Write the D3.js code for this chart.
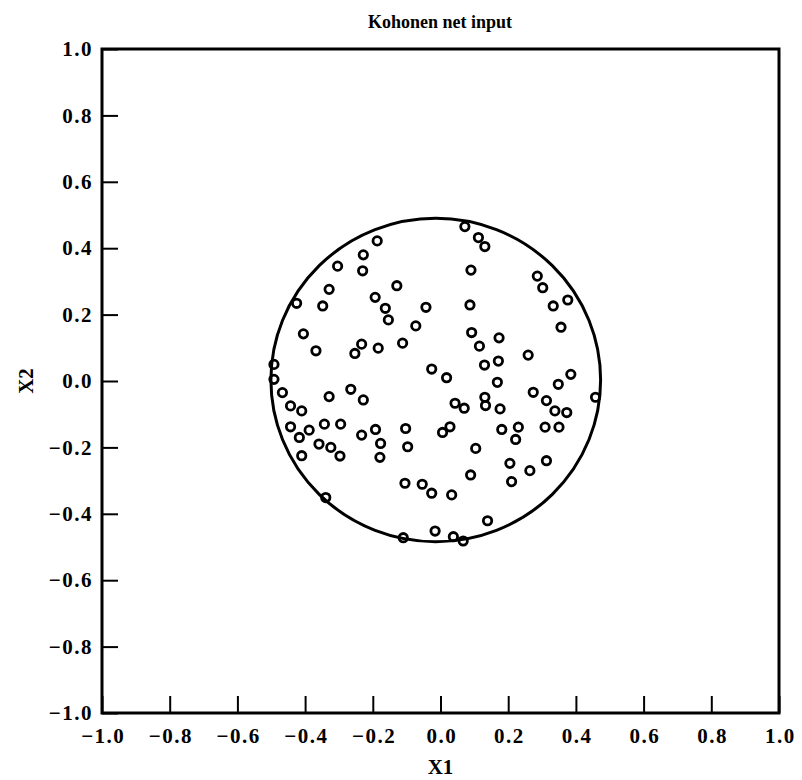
<!DOCTYPE html>
<html>
<head>
<meta charset="utf-8">
<script src="https://cdn.jsdelivr.net/npm/d3@7/dist/d3.min.js"></script>
<style>
  html, body { margin: 0; padding: 0; background: #fff; }
  svg { display: block; }
  text { font-family: "Liberation Serif", "DejaVu Serif", serif; fill: #000; }
</style>
</head>
<body>
<svg id="chart" width="802" height="780"></svg>
<script>
const title = "Kohonen net input";
const xLabel = "X1";
const yLabel = "X2";
const xTicks = [-1.0, -0.8, -0.6, -0.4, -0.2, 0.0, 0.2, 0.4, 0.6, 0.8, 1.0];
const yTicks = [-1.0, -0.8, -0.6, -0.4, -0.2, 0.0, 0.2, 0.4, 0.6, 0.8, 1.0];
// boundary circle (centre and radius in data units)
const circleCenter = [-0.014, 0.003];
const circleRadius = 0.487;

const x1 = [
  -0.187, -0.228, -0.230, -0.304, -0.129, -0.329, -0.425, -0.348, -0.193, -0.163,
  -0.154, -0.043, -0.073, -0.405, -0.368, -0.112, -0.233, -0.253, -0.184,
   0.072,  0.112,  0.131,  0.090,  0.286,  0.302,  0.376,  0.333,  0.087,  0.356,
   0.092,  0.173,  0.115,  0.259,
  -0.026, -0.492, -0.492, -0.467, -0.443, -0.410, -0.329, -0.265, -0.228, -0.443,
  -0.417, -0.388, -0.343, -0.295, -0.359, -0.324, -0.297, -0.410, -0.233, -0.192,
  -0.177, -0.179, -0.103, -0.097, -0.105, -0.054, -0.026, -0.339, -0.110, -0.016,
   0.171,  0.130,  0.018,  0.168,  0.385,  0.348,  0.274,  0.313,  0.338,  0.373,
   0.458,  0.043,  0.070,  0.131,  0.133,  0.176,  0.028,  0.006,  0.181,  0.230,
   0.222,  0.309,  0.350,  0.104,  0.205,  0.264,  0.313,  0.089,  0.210,  0.033,
   0.139,  0.038,  0.067
];
const x2 = [
   0.422,  0.380,  0.332,  0.346,  0.287,  0.276,  0.234,  0.226,  0.252,  0.219,
   0.184,  0.222,  0.166,  0.142,  0.091,  0.114,  0.111,  0.083,  0.099,
   0.465,  0.432,  0.405,  0.334,  0.316,  0.281,  0.244,  0.226,  0.229,  0.162,
   0.146,  0.130,  0.105,  0.078,
   0.036,  0.050,  0.005, -0.035, -0.075, -0.090, -0.047, -0.025, -0.057, -0.138,
  -0.170, -0.148, -0.130, -0.130, -0.190, -0.200, -0.226, -0.225, -0.163, -0.146,
  -0.188, -0.230, -0.143, -0.198, -0.308, -0.311, -0.338, -0.351, -0.472, -0.452,
   0.060,  0.048,  0.010, -0.004,  0.020, -0.010, -0.034, -0.059, -0.090, -0.095,
  -0.049, -0.067, -0.082, -0.049, -0.074, -0.084, -0.138, -0.155, -0.146, -0.139,
  -0.176, -0.139, -0.139, -0.203, -0.248, -0.270, -0.240, -0.283, -0.303, -0.343,
  -0.421, -0.469, -0.482
];

const W = 802, H = 780;
const margin = { left: 102, right: 23, top: 49, bottom: 67 };
const svg = d3.select("#chart");

const x = d3.scaleLinear().domain([-1, 1]).range([margin.left, W - margin.right]);
const y = d3.scaleLinear().domain([-1, 1]).range([H - margin.bottom, margin.top]);

const fmt = v => {
  const s = d3.format(".1f")(Math.abs(v));
  return (v < 0 ? "\u2212" : "") + s;
};

// x axis (ticks pointing inward)
const gx = svg.append("g")
  .attr("transform", `translate(0,${y(-1)})`)
  .call(d3.axisBottom(x).tickValues(xTicks).tickFormat(fmt).tickSizeInner(-17).tickSizeOuter(0).tickPadding(15));
gx.select(".domain").remove();
gx.selectAll(".tick line").attr("stroke", "#000").attr("stroke-width", 2);
gx.selectAll(".tick text").attr("font-size", 21).attr("font-weight", "bold")
  .attr("letter-spacing", 1.5).attr("dx", 0.75);

// y axis
const gy = svg.append("g")
  .attr("transform", `translate(${x(-1)},0)`)
  .call(d3.axisLeft(y).tickValues(yTicks).tickFormat(fmt).tickSizeInner(-16).tickSizeOuter(0).tickPadding(9));
gy.select(".domain").remove();
gy.selectAll(".tick line").attr("stroke", "#000").attr("stroke-width", 2);
gy.selectAll(".tick text").attr("font-size", 21).attr("font-weight", "bold")
  .attr("letter-spacing", 1.5);

// frame
svg.append("rect")
  .attr("x", x(-1)).attr("y", y(1))
  .attr("width", x(1) - x(-1)).attr("height", y(-1) - y(1))
  .attr("fill", "none").attr("stroke", "#000").attr("stroke-width", 3);

// boundary circle
svg.append("ellipse")
  .attr("cx", x(circleCenter[0])).attr("cy", y(circleCenter[1]))
  .attr("rx", x(circleCenter[0] + circleRadius) - x(circleCenter[0]))
  .attr("ry", y(circleCenter[1]) - y(circleCenter[1] + circleRadius))
  .attr("fill", "none").attr("stroke", "#000").attr("stroke-width", 3);

// points
const pts = x1.map((v, i) => [v, x2[i]]);
svg.append("g").selectAll("circle").data(pts).join("circle")
  .attr("cx", d => x(d[0])).attr("cy", d => y(d[1]))
  .attr("r", 4.2)
  .attr("fill", "none").attr("stroke", "#000").attr("stroke-width", 2.8);

// title and axis labels
svg.append("text").attr("x", 440).attr("y", 28)
  .attr("text-anchor", "middle").attr("font-size", 18).attr("font-weight", "bold")
  .text(title);
svg.append("text").attr("x", x(0)).attr("y", 774)
  .attr("text-anchor", "middle").attr("font-size", 21).attr("font-weight", "bold")
  .text(xLabel);
svg.append("text")
  .attr("transform", `translate(33,${y(0)}) rotate(-90)`)
  .attr("text-anchor", "middle").attr("font-size", 21).attr("font-weight", "bold")
  .text(yLabel);
</script>
</body>
</html>
